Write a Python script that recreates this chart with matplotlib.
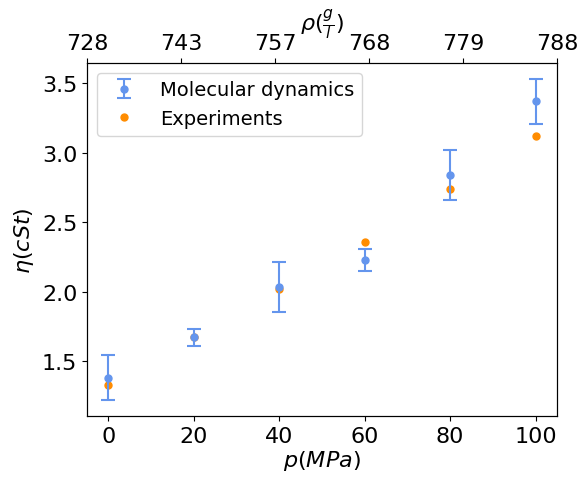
import numpy as np
import matplotlib
matplotlib.use("Agg")
import matplotlib.pyplot as plt

pressure = [0, 20, 40, 60, 80, 100]
md_visc = [1.38, 1.67, 2.03, 2.23, 2.84, 3.37]
md_err = [0.16, 0.06, 0.18, 0.08, 0.18, 0.16]
exp_visc = [1.33, 1.67, 2.02, 2.36, 2.74, 3.12]
density_labels = ["728", "743", "757", "768", "779", "788"]

fig = plt.figure(figsize=(5.78, 4.81), dpi=100)
ax = fig.add_axes([87 / 578, 1 - 417 / 481, (557 - 87) / 578, (417 - 64) / 481])

exp_line, = ax.plot(pressure, exp_visc, "o", color="darkorange", markersize=5,
                    label="Experiments")
md_bars = ax.errorbar(pressure, md_visc, yerr=md_err, fmt="o", color="cornflowerblue",
                      markersize=5, capsize=5, elinewidth=1.5, capthick=1.5,
                      label="Molecular dynamics")

ax.set_xlabel(r"$p(MPa)$", fontsize=16, labelpad=2)
ax.set_ylabel(r"$\eta(cSt)$", fontsize=16)
ax.tick_params(labelsize=16)
ax.set_xticks([0, 20, 40, 60, 80, 100])
ax.set_yticks([1.5, 2.0, 2.5, 3.0, 3.5])
ax.legend([md_bars, exp_line], ["Molecular dynamics", "Experiments"],
          loc="upper left", fontsize=14, handletextpad=0.85)

ax2 = ax.twiny()
ax2.set_xlim(0, 5)
ax2.set_xticks(np.arange(len(density_labels)))
ax2.set_xticklabels(density_labels)
ax2.tick_params(labelsize=16)
ax2.set_xlabel(r"$\rho(\frac{g}{l})$", fontsize=16, labelpad=2)

fig.savefig("out.png", dpi=100)
